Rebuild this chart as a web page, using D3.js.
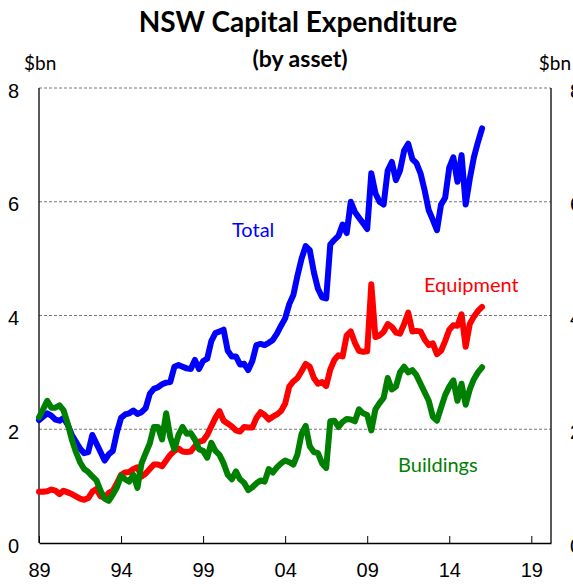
<!DOCTYPE html>
<html>
<head>
<meta charset="utf-8">
<script src="https://cdn.jsdelivr.net/npm/d3@7"></script>
<style>
  body { margin: 0; background: #fff; }
  svg { display: block; font-family: Lato, "Noto Sans", sans-serif; }
</style>
</head>
<body>
<svg></svg>
<script>
// quarterly data, $bn, starting Mar-89
const startYear = 1989;

const total = [
  2.16, 2.22, 2.28, 2.24, 2.17, 2.15, 2.20, 2.08, 1.90, 1.78,
  1.66, 1.58, 1.60, 1.90, 1.75, 1.60, 1.45, 1.56, 1.62, 1.95,
  2.20, 2.26, 2.28, 2.33, 2.27, 2.30, 2.37, 2.62, 2.71, 2.74,
  2.79, 2.82, 2.83, 3.10, 3.13, 3.10, 3.07, 3.06, 3.22, 3.06,
  3.20, 3.24, 3.55, 3.69, 3.72, 3.75, 3.38, 3.28, 3.28, 3.14,
  3.15, 3.04, 3.20, 3.48, 3.50, 3.48, 3.52, 3.57, 3.68, 3.82,
  3.95, 4.20, 4.36, 4.70, 5.00, 5.22, 5.15, 4.76, 4.47, 4.32,
  4.30, 5.25, 5.33, 5.40, 5.60, 5.45, 6.00, 5.82, 5.72, 5.62,
  5.52, 6.50, 6.15, 6.00, 5.95, 6.55, 6.70, 6.38, 6.55, 6.90,
  7.02, 6.75, 6.68, 6.50, 6.20, 5.85, 5.68, 5.50, 5.95, 6.07,
  6.60, 6.78, 6.35, 6.82, 5.95, 6.40, 6.78, 7.05, 7.29
];

const equipment = [
  0.90, 0.90, 0.91, 0.94, 0.92, 0.86, 0.92, 0.89, 0.86, 0.82,
  0.78, 0.76, 0.79, 0.90, 0.95, 0.82, 0.80, 0.88, 0.92, 1.05,
  1.20, 1.24, 1.25, 1.30, 1.33, 1.17, 1.22, 1.30, 1.38, 1.38,
  1.35, 1.45, 1.55, 1.62, 1.66, 1.61, 1.60, 1.61, 1.70, 1.78,
  1.80, 1.90, 2.05, 2.20, 2.32, 2.15, 2.10, 2.05, 1.98, 1.96,
  2.04, 2.03, 2.03, 2.20, 2.30, 2.25, 2.17, 2.22, 2.26, 2.32,
  2.45, 2.75, 2.84, 2.90, 3.02, 3.15, 3.10, 2.90, 2.80, 2.83,
  2.76, 3.05, 3.22, 3.30, 3.28, 3.65, 3.72, 3.52, 3.38, 3.36,
  3.37, 4.55, 3.62, 3.65, 3.71, 3.85, 3.80, 3.70, 3.68, 3.85,
  4.05, 3.72, 3.73, 3.72, 3.58, 3.48, 3.51, 3.32, 3.38, 3.55,
  3.75, 3.83, 3.82, 4.02, 3.45, 3.85, 3.98, 4.08, 4.15
];

const buildings = [
  2.21, 2.35, 2.50, 2.38, 2.38, 2.42, 2.33, 2.10, 1.82, 1.60,
  1.42, 1.30, 1.25, 1.17, 1.10, 0.92, 0.78, 0.74, 0.85, 0.98,
  1.18, 1.12, 1.08, 1.20, 0.97, 1.40, 1.58, 1.75, 2.04, 2.04,
  1.82, 2.28, 1.86, 1.65, 1.90, 2.04, 1.92, 1.93, 1.82, 1.65,
  1.62, 1.50, 1.76, 1.62, 1.55, 1.40, 1.20, 1.12, 1.26, 1.12,
  1.06, 0.93, 0.98, 1.05, 1.10, 1.08, 1.30, 1.24, 1.33, 1.40,
  1.45, 1.42, 1.38, 1.56, 1.92, 2.06, 1.70, 1.60, 1.58, 1.40,
  1.32, 2.14, 2.15, 2.04, 2.13, 2.18, 2.17, 2.14, 2.35, 2.28,
  2.25, 1.98, 2.35, 2.46, 2.55, 2.90, 2.70, 2.75, 3.00, 3.10,
  3.00, 3.04, 2.95, 2.80, 2.65, 2.50, 2.22, 2.15, 2.38, 2.60,
  2.75, 2.86, 2.50, 2.80, 2.43, 2.70, 2.88, 3.00, 3.09
];

const quarters = total.map((d, i) => startYear + i / 4);

const xTicks = [1989, 1994, 1999, 2004, 2009, 2014, 2019];
const xTickLabels = ["89", "94", "99", "04", "09", "14", "19"];
const yTicks = [0, 2, 4, 6, 8];

const series = [
  {name: "Total", values: total, color: "#0000ff", labelAt: [2000.76, 5.38]},
  {name: "Equipment", values: equipment, color: "#ff0000", labelAt: [2012.46, 4.41]},
  {name: "Buildings", values: buildings, color: "#008000", labelAt: [2010.88, 1.25]}
];

const W = 573, H = 584;
const margin = {top: 88, right: 22, bottom: 41, left: 39};
const width = W - margin.left - margin.right,
    height = H - margin.top - margin.bottom;

const svg = d3.select("svg")
    .attr("width", W)
    .attr("height", H);

const x = d3.scaleLinear().domain([1989, 2020.2]).range([0, width]);
const y = d3.scaleLinear().domain([0, 8]).range([height, 0]);

// titles
svg.append("text")
    .attr("x", 298).attr("y", 32)
    .attr("text-anchor", "middle")
    .style("font-size", "28px").style("font-weight", "bold")
    .text("NSW Capital Expenditure");
svg.append("text")
    .attr("x", 300).attr("y", 67)
    .attr("text-anchor", "middle")
    .style("font-size", "23px").style("font-weight", "bold")
    .text("(by asset)");
svg.append("text")
    .attr("x", 24).attr("y", 70)
    .style("font-size", "19px")
    .text("$bn");
svg.append("text")
    .attr("x", 571).attr("y", 70)
    .attr("text-anchor", "end")
    .style("font-size", "19px")
    .text("$bn");

const g = svg.append("g")
    .attr("transform", "translate(" + margin.left + "," + margin.top + ")");

// dashed gridlines
g.selectAll(".grid")
    .data(yTicks.filter(d => d > 0))
    .enter().append("line")
    .attr("x1", 0).attr("x2", width)
    .attr("y1", d => y(d)).attr("y2", d => y(d))
    .attr("stroke", "#777")
    .attr("stroke-width", 1)
    .attr("stroke-dasharray", "3,2");

// left / right frame
g.append("line").attr("x1", 0).attr("x2", 0).attr("y1", 0).attr("y2", height)
    .attr("stroke", "#000").attr("stroke-width", 1.3);
g.append("line").attr("x1", width).attr("x2", width).attr("y1", 0).attr("y2", height)
    .attr("stroke", "#000").attr("stroke-width", 1.3);

// x axis
const xAxis = g.append("g")
    .attr("transform", "translate(0," + height + ")")
    .call(d3.axisBottom(x)
        .tickValues(xTicks)
        .tickFormat((d, i) => xTickLabels[i])
        .tickSizeInner(-7)
        .tickSizeOuter(0)
        .tickPadding(20));
xAxis.select(".domain").attr("stroke", "#000").attr("stroke-width", 1.5);
xAxis.selectAll(".tick line").attr("stroke", "#000");
xAxis.selectAll("text").style("font-size", "20px").attr("font-family", null);

// left y labels
const yLeft = g.append("g")
    .call(d3.axisLeft(y).tickValues(yTicks).tickSize(0).tickPadding(20));
yLeft.select(".domain").remove();
yLeft.selectAll("text").style("font-size", "20px").attr("font-family", null).attr("dy", "0.45em");

// right y labels (partly outside the window, as in the source)
const yRight = g.append("g")
    .attr("transform", "translate(" + width + ",0)")
    .call(d3.axisRight(y).tickValues(yTicks).tickSize(0).tickPadding(19));
yRight.select(".domain").remove();
yRight.selectAll("text").style("font-size", "20px").attr("font-family", null).attr("dy", "0.45em");

// lines
const line = d3.line()
    .x((d, i) => x(quarters[i]))
    .y(d => y(d));

g.selectAll(".series")
    .data(series)
    .enter().append("path")
    .attr("class", "series")
    .attr("d", d => line(d.values))
    .attr("fill", "none")
    .attr("stroke", d => d.color)
    .attr("stroke-width", 6)
    .attr("stroke-linejoin", "round")
    .attr("stroke-linecap", "round");

// series labels
g.selectAll(".label")
    .data(series)
    .enter().append("text")
    .attr("class", "label")
    .attr("x", d => x(d.labelAt[0]))
    .attr("y", d => y(d.labelAt[1]))
    .attr("fill", d => d.color)
    .style("font-size", "20px")
    .text(d => d.name);
</script>
</body>
</html>
